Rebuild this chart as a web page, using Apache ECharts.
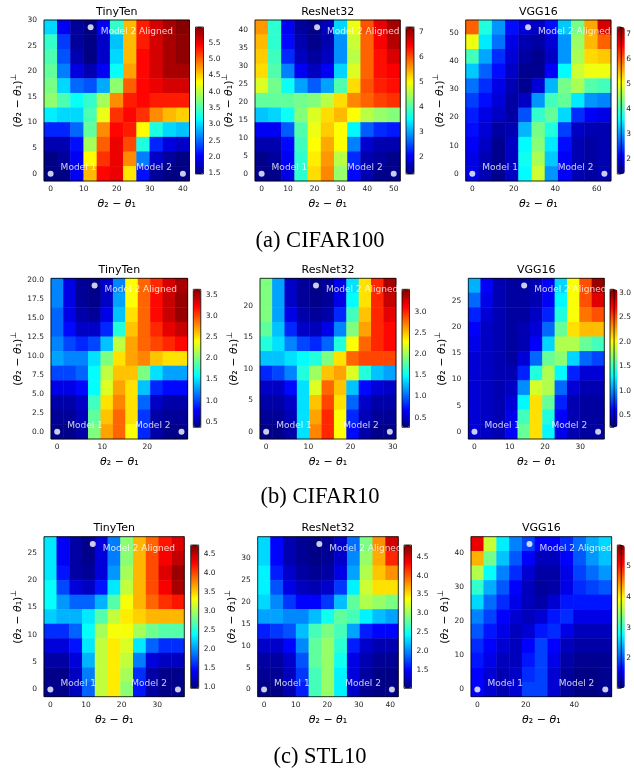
<!DOCTYPE html>
<html><head><meta charset="utf-8">
<script src="https://cdn.jsdelivr.net/npm/echarts@6/dist/echarts.min.js"></script>
<style>html,body{margin:0;padding:0;background:#fff}#c{width:634px;height:773px}</style>
</head><body><div id="c"></div>
<script>
// ---------------- data ----------------
const panelTitles = ['TinyTen','ResNet32','VGG16','TinyTen','ResNet32','VGG16','TinyTen','ResNet32','VGG16'];
const captions = ['(a) CIFAR100','(b) CIFAR10','(c) STL10'];
const dotNames = ['Model 1','Model 2','Model 2 Aligned'];
const model2X  = [40, 50, 63.7, 27.6, 29.3, 35.1, 35.8, 40.5, 52.8];
const alignedX = [12.1, 21.0, 26.9, 8.3, 11.8, 14.1, 11.9, 17.5, 21.5];
const alignedY = [28.6, 40.8, 52.1, 19.3, 23.2, 28.0, 26.6, 33.3, 42.8];
const cbMin = [1.48, 1.33, 1.40, 0.37, 0.27, 0.26, 0.96, 1.02, 1.02];
const cbMax = [5.98, 7.21, 7.30, 3.63, 3.53, 3.07, 4.75, 4.81, 5.70];
const xTicks = [[0,10,20,30,40],[0,10,20,30,40,50],[0,20,40,60],[0,10,20],[0,10,20,30],[0,10,20,30],[0,10,20,30],[0,10,20,30,40],[0,20,40]];
const yTicks = [[0,5,10,15,20,25,30],[0,5,10,15,20,25,30,35,40],[0,10,20,30,40,50],[0,2.5,5,7.5,10,12.5,15,17.5,20],[0,5,10,15,20],[0,5,10,15,20,25],[0,5,10,15,20,25],[0,5,10,15,20,25,30],[0,10,20,30,40]];
const yDecimals = [0,0,0,1,0,0,0,0,0];
const cbTicks = [[1.5,2,2.5,3,3.5,4,4.5,5,5.5],[2,3,4,5,6,7],[2,3,4,5,6,7],[0.5,1,1.5,2,2.5,3,3.5],[0.5,1,1.5,2,2.5,3],[0.5,1,1.5,2,2.5,3],[1,1.5,2,2.5,3,3.5,4,4.5],[1.5,2,2.5,3,3.5,4,4.5],[2,3,4,5]];
const cbDecimals = [1,0,0,1,1,1,1,1,0];

// loss surfaces, rows from top (y = L) to bottom (y = 0), columns x = 0 .. L
const heat1 = [
[3.0,2.0,1.6,1.5,2.0,3.4,4.6,5.3,5.6,5.8,5.95],
[3.4,2.3,1.6,1.5,1.8,2.9,4.6,5.3,5.6,5.8,5.9],
[3.5,2.4,1.7,1.5,1.8,3.0,4.6,5.4,5.6,5.8,5.9],
[3.6,2.6,1.9,1.7,2.0,3.2,4.7,5.4,5.6,5.8,5.8],
[3.7,3.0,2.5,2.4,2.8,3.8,5.0,5.4,5.5,5.6,5.6],
[3.8,3.5,3.2,3.4,3.9,4.8,5.3,5.4,5.3,5.3,5.3],
[3.1,3.0,3.0,3.5,4.2,5.2,5.4,5.2,4.8,4.6,4.5],
[2.2,2.2,2.5,3.6,4.8,5.4,5.3,4.3,3.3,3.0,2.9],
[1.7,1.7,2.1,3.9,5.0,5.5,5.1,3.3,2.2,1.9,1.8],
[1.5,1.6,2.0,4.3,5.2,5.5,4.8,2.6,1.8,1.6,1.5],
[1.5,1.5,2.0,4.6,5.4,5.5,4.4,2.1,1.6,1.5,1.5]];
const heat2 = [
[5.6,3.8,2.0,1.5,1.4,1.7,3.3,4.9,6.0,6.6,7.0],
[5.4,3.8,2.1,1.6,1.4,1.6,2.9,4.7,5.9,6.5,6.9],
[5.3,3.9,2.3,1.7,1.5,1.7,2.9,4.6,5.9,6.4,6.7],
[5.2,4.0,2.8,2.0,1.7,2.0,3.3,4.8,5.9,6.4,6.5],
[4.8,4.2,3.6,3.0,2.6,3.0,4.0,5.2,6.0,6.3,6.4],
[4.1,4.1,4.1,4.2,4.3,4.6,5.2,5.7,5.9,6.1,6.2],
[3.2,3.3,3.6,4.3,4.8,5.2,5.4,5.0,4.6,4.4,4.3],
[2.0,2.0,2.6,4.0,4.9,5.3,5.0,3.5,2.6,2.3,2.2],
[1.6,1.6,2.1,3.9,5.0,5.5,5.0,2.8,1.8,1.6,1.6],
[1.4,1.5,2.0,3.8,5.1,5.6,4.6,2.3,1.6,1.5,1.4],
[1.4,1.4,1.9,3.8,5.2,5.7,4.4,2.1,1.6,1.4,1.4]];
const heat3 = [
[6.0,3.8,3.0,2.2,1.9,1.8,2.2,3.3,4.3,5.6,6.8],
[5.0,3.5,2.8,2.0,1.7,1.6,1.9,3.0,4.5,5.5,6.0],
[4.0,3.1,2.4,1.9,1.6,1.5,1.8,3.0,4.6,5.3,5.4],
[3.3,2.7,2.2,1.8,1.5,1.5,2.1,3.6,4.8,5.0,5.0],
[2.8,2.4,2.0,1.7,1.5,1.9,3.2,4.3,4.6,4.1,4.0],
[2.5,2.2,1.9,1.6,1.8,3.0,4.0,4.2,3.5,3.0,2.9],
[2.3,2.0,1.8,1.6,2.6,3.9,4.2,3.4,2.4,2.1,2.0],
[2.2,1.9,1.6,1.7,3.2,4.3,3.8,2.5,1.8,1.7,1.7],
[2.1,1.8,1.5,1.8,3.6,4.4,3.5,2.2,1.7,1.6,1.7],
[2.0,1.7,1.5,1.8,3.7,4.6,3.3,2.1,1.7,1.6,1.7],
[2.0,1.7,1.5,1.8,3.6,4.8,3.0,2.1,1.7,1.6,1.7]];
const heat4 = [
[1.2,0.7,0.45,0.4,0.6,1.2,2.4,2.9,3.1,3.35,3.5],
[1.2,0.7,0.45,0.4,0.6,1.3,2.4,2.9,3.2,3.4,3.55],
[1.1,0.7,0.5,0.45,0.7,1.4,2.5,2.9,3.2,3.4,3.55],
[1.1,0.8,0.6,0.6,0.9,1.7,2.6,2.9,3.1,3.3,3.4],
[1.2,1.0,0.9,1.0,1.4,2.2,2.7,2.9,3.0,3.1,3.2],
[1.3,1.2,1.2,1.5,2.0,2.5,2.7,2.8,2.6,2.5,2.5],
[1.0,1.0,1.1,1.6,2.2,2.6,2.6,2.0,1.5,1.3,1.3],
[0.7,0.7,0.8,1.6,2.3,2.7,2.5,1.4,0.9,0.8,0.8],
[0.5,0.5,0.6,1.8,2.5,2.8,2.5,1.1,0.6,0.5,0.5],
[0.45,0.45,0.55,1.9,2.6,2.9,2.5,0.95,0.5,0.45,0.45],
[0.4,0.4,0.5,2.0,2.7,2.9,2.4,0.9,0.5,0.4,0.4]];
const heat5 = [
[1.9,1.2,0.5,0.35,0.3,0.35,0.6,1.4,2.4,3.0,3.4],
[1.9,1.2,0.5,0.35,0.3,0.35,0.6,1.5,2.4,3.0,3.3],
[1.9,1.2,0.6,0.4,0.35,0.4,0.8,1.7,2.5,3.0,3.2],
[1.8,1.3,0.8,0.5,0.45,0.6,1.1,1.9,2.6,3.0,3.1],
[1.6,1.4,1.1,0.9,0.8,1.0,1.6,2.3,2.8,3.0,3.1],
[1.3,1.3,1.4,1.5,1.6,1.9,2.4,2.8,2.9,2.9,2.9],
[0.8,0.9,1.1,1.6,2.0,2.5,2.6,2.2,1.6,1.3,1.2],
[0.5,0.5,0.7,1.4,2.2,2.8,2.5,1.3,0.7,0.55,0.5],
[0.4,0.4,0.5,1.4,2.5,2.9,2.4,1.0,0.5,0.4,0.4],
[0.35,0.35,0.45,1.4,2.6,3.0,2.3,0.8,0.45,0.35,0.35],
[0.3,0.3,0.4,1.4,2.7,3.0,2.3,0.7,0.4,0.3,0.3]];
const heat6 = [
[1.1,0.6,0.4,0.35,0.35,0.4,0.6,1.2,2.0,2.5,3.0],
[0.9,0.55,0.4,0.35,0.35,0.4,0.6,1.3,2.0,2.5,2.8],
[0.7,0.5,0.4,0.35,0.35,0.45,0.7,1.4,2.0,2.4,2.5],
[0.6,0.45,0.4,0.35,0.4,0.5,0.9,1.6,2.1,2.2,2.2],
[0.55,0.45,0.4,0.35,0.4,0.6,1.2,1.8,1.8,1.6,1.5],
[0.5,0.45,0.4,0.35,0.5,0.9,1.6,1.7,1.2,0.9,0.8],
[0.5,0.45,0.4,0.4,0.7,1.4,1.8,1.3,0.7,0.5,0.5],
[0.5,0.45,0.4,0.45,1.0,1.9,1.8,0.9,0.5,0.4,0.4],
[0.5,0.45,0.4,0.5,1.3,2.1,1.6,0.7,0.4,0.35,0.35],
[0.5,0.45,0.4,0.55,1.5,2.1,1.4,0.6,0.4,0.35,0.35],
[0.5,0.45,0.4,0.6,1.6,2.1,1.3,0.55,0.4,0.35,0.35]];
const heat7 = [
[2.3,1.4,1.1,1.0,1.3,1.9,2.9,3.6,3.9,4.2,4.4],
[2.3,1.4,1.1,1.0,1.3,1.9,2.9,3.6,4.0,4.3,4.5],
[2.3,1.5,1.1,1.05,1.3,2.0,3.0,3.6,4.0,4.4,4.65],
[2.4,1.7,1.3,1.2,1.5,2.3,3.1,3.6,4.0,4.3,4.6],
[2.4,2.0,1.8,1.8,2.1,2.7,3.3,3.6,3.9,4.1,4.2],
[2.2,2.1,2.1,2.3,2.7,3.1,3.4,3.5,3.6,3.6,3.6],
[1.6,1.6,1.8,2.4,3.0,3.3,3.3,3.0,2.8,2.7,2.7],
[1.3,1.3,1.5,2.3,3.1,3.4,3.2,2.3,1.8,1.6,1.6],
[1.1,1.1,1.3,2.1,3.1,3.4,3.1,1.9,1.3,1.2,1.2],
[1.0,1.0,1.2,1.9,3.1,3.4,3.0,1.6,1.1,1.0,1.0],
[1.0,1.0,1.2,1.8,3.1,3.4,2.9,1.5,1.1,1.0,1.0]];
const heat8 = [
[2.3,1.5,1.2,1.1,1.05,1.1,1.3,1.9,2.9,3.8,4.5],
[2.3,1.5,1.2,1.1,1.05,1.1,1.3,2.0,3.0,3.7,4.2],
[2.4,1.6,1.3,1.15,1.1,1.15,1.4,2.1,3.1,3.6,3.8],
[2.4,1.8,1.4,1.25,1.2,1.3,1.7,2.4,3.2,3.5,3.5],
[2.3,2.0,1.7,1.5,1.5,1.7,2.2,2.8,3.1,3.0,2.9],
[2.1,2.1,2.0,2.0,2.2,2.5,2.8,2.7,2.4,2.2,2.1],
[1.6,1.7,1.8,2.2,2.7,2.9,2.7,2.1,1.6,1.5,1.5],
[1.3,1.3,1.5,2.0,2.8,3.0,2.6,1.6,1.3,1.2,1.2],
[1.15,1.15,1.3,1.8,2.8,3.0,2.5,1.4,1.2,1.1,1.1],
[1.1,1.1,1.25,1.7,2.7,3.0,2.4,1.35,1.15,1.05,1.05],
[1.05,1.05,1.2,1.6,2.7,3.0,2.4,1.3,1.1,1.05,1.05]];
const heat9 = [
[5.2,3.7,2.7,2.2,1.9,1.6,1.6,1.8,2.1,2.4,2.6],
[4.3,3.3,2.5,2.0,1.6,1.3,1.3,1.6,2.0,2.3,2.5],
[3.6,2.8,2.2,1.8,1.4,1.2,1.2,1.5,1.9,2.1,2.3],
[3.0,2.4,2.0,1.6,1.3,1.15,1.2,1.5,1.8,1.9,2.0],
[2.6,2.1,1.8,1.5,1.3,1.2,1.4,1.7,1.7,1.7,1.7],
[2.2,1.9,1.6,1.4,1.3,1.4,1.7,1.8,1.5,1.5,1.5],
[2.0,1.7,1.5,1.3,1.4,1.7,1.8,1.5,1.3,1.3,1.3],
[1.8,1.6,1.4,1.3,1.6,1.9,1.6,1.3,1.2,1.2,1.2],
[1.7,1.5,1.3,1.3,1.7,1.9,1.5,1.2,1.1,1.1,1.1],
[1.6,1.4,1.25,1.35,1.8,1.9,1.4,1.15,1.05,1.05,1.1],
[1.6,1.4,1.25,1.4,1.9,1.9,1.4,1.15,1.05,1.05,1.1]];
const heats = [heat1,heat2,heat3,heat4,heat5,heat6,heat7,heat8,heat9];

// ---------------- layout ----------------
const plotRects = [[44,20,145.5,161],[255,20,145.3,161],[465.7,20,145.3,161],
                   [51,278.3,136.7,160.7],[260,278.3,136,160.7],[468.3,278.3,136,160.7],
                   [44,536.7,140.3,160],[257.7,536.7,140.6,160],[471,536.7,140.7,160]];
const cbRects = [[195.5,27,8,147],[406,27,8,147],[617.3,27,7.5,147],
                 [193.3,289.3,7.5,138],[402,289.3,7.5,138],[610,289.3,7.5,138],
                 [190.7,545,8,143.3],[404,545,7.5,143.3],[617.3,545,7.5,143.3]];
const yNameGap = [18,16,16,23,17,17,18,15,18];
const titleY = [12,12,12,270,270,270,528,528,528];
const captionY = [241.5,497,757];

const jet = ['#00007f','#0000ff','#007fff','#00ffff','#7fff7f','#ffff00','#ff7f00','#ff0000','#7f0000'];
const FONT = 'DejaVu Sans';
const cats = [0,1,2,3,4,5,6,7,8,9,10];
const tickLine = {color:'#000', width:0.8};
const xName = '{i|θ}{n|₂ − }{i|θ}{n|₁}';
const yName = '{n|(}{i|θ}{n|₂ − }{i|θ}{n|₁)}{s|⊥}';
const nameStyle = {color:'#000', fontSize:11, fontFamily:FONT,
  rich:{i:{fontStyle:'italic', fontSize:11, fontFamily:FONT, color:'#000', lineHeight:16},
        n:{fontSize:11, fontFamily:FONT, color:'#000', lineHeight:16},
        s:{fontSize:8, fontFamily:FONT, color:'#000', verticalAlign:'top', lineHeight:16}}};

const option = {animation:false, textStyle:{fontFamily:FONT},
  grid:[], xAxis:[], yAxis:[], series:[], visualMap:[], title:[]};

for (let p = 0; p < 9; p++) {
  const [l,t,w,h] = plotRects[p];
  const Lx = model2X[p], Ly = alignedY[p];
  const g = option.grid.length;
  option.grid.push({left:l, top:t, width:w, height:h, show:true, borderColor:'#000', borderWidth:0.8, z:10, backgroundColor:'transparent'});
  const vx = option.xAxis.length;
  option.xAxis.push({type:'value', gridIndex:g, min:-0.05*Lx, max:1.05*Lx,
    axisLine:{show:false}, splitLine:{show:false},
    axisTick:{show:true, length:3.5, lineStyle:tickLine, customValues:xTicks[p]},
    axisLabel:{customValues:xTicks[p], fontSize:7.5, color:'#222', margin:4.5, fontFamily:FONT, formatter:v=>String(v)},
    name:xName, nameLocation:'middle', nameGap:15, nameTextStyle:nameStyle});
  const cx = option.xAxis.length;
  option.xAxis.push({type:'category', gridIndex:g, data:cats, show:false, boundaryGap:true});
  const vy = option.yAxis.length;
  option.yAxis.push({type:'value', gridIndex:g, min:-0.05*Ly, max:1.05*Ly,
    axisLine:{show:false}, splitLine:{show:false},
    axisTick:{show:true, length:3.5, lineStyle:tickLine, customValues:yTicks[p]},
    axisLabel:{customValues:yTicks[p], fontSize:7.5, color:'#222', margin:7, fontFamily:FONT, formatter:v=>Number(v).toFixed(yDecimals[p])},
    name:yName, nameLocation:'middle', nameGap:yNameGap[p], nameTextStyle:nameStyle});
  const cy = option.yAxis.length;
  option.yAxis.push({type:'category', gridIndex:g, data:cats, show:false, boundaryGap:true});

  const rows = heats[p], data = [];
  rows.forEach((row, r) => row.forEach((v, c) => data.push([c, rows.length - 1 - r, v])));
  const hs = option.series.length;
  option.series.push({type:'heatmap', xAxisIndex:cx, yAxisIndex:cy, data:data, silent:true,
    emphasis:{disabled:true}, itemStyle:{borderWidth:0}, progressive:0});
  const pts = [[0,0],[Lx,0],[alignedX[p],Ly]];
  const lab = [{position:'right', offset:[2,-6]},{position:'left', offset:[-3,-6]},{position:'right', offset:[2,4.5]}];
  option.series.push({type:'scatter', xAxisIndex:vx, yAxisIndex:vy, symbolSize:6, z:11, silent:true,
    itemStyle:{color:'#fff'},
    label:{show:true, color:'#fff', fontSize:9, fontFamily:FONT},
    data: pts.map((pt,i)=>({name:dotNames[i], value:pt, label:Object.assign({formatter:dotNames[i]}, lab[i])}))});

  const [bl,bt,bw,bh] = cbRects[p];
  const g2 = option.grid.length;
  option.grid.push({left:bl, top:bt, width:bw, height:bh, show:true, borderColor:'#000', borderWidth:0.8, z:10, backgroundColor:'transparent'});
  option.xAxis.push({type:'value', gridIndex:g2, show:false});
  option.yAxis.push({type:'value', gridIndex:g2, position:'right', min:cbMin[p], max:cbMax[p],
    axisLine:{show:false}, splitLine:{show:false},
    axisTick:{show:true, length:3, lineStyle:tickLine, customValues:cbTicks[p]},
    axisLabel:{customValues:cbTicks[p], fontSize:7.5, color:'#222', margin:5, fontFamily:FONT, formatter:v=>Number(v).toFixed(cbDecimals[p])}});
  option.visualMap.push({type:'continuous', seriesIndex:hs, dimension:2, min:cbMin[p], max:cbMax[p],
    inRange:{color:jet}, left:bl, top:bt, itemWidth:bw, itemHeight:bh, padding:0,
    calculable:false, hoverLink:false, showLabel:false, text:null});

  option.title.push({text:panelTitles[p], left:l + w/2, top:titleY[p], textAlign:'center', textVerticalAlign:'middle', padding:0,
    textStyle:{fontSize:11, fontWeight:'normal', color:'#000', fontFamily:FONT}});
}
captions.forEach((c,i)=>option.title.push({text:c, left:320, top:captionY[i], textAlign:'center', textVerticalAlign:'middle', padding:0,
  textStyle:{fontSize:22.5, fontWeight:'normal', color:'#000', fontFamily:'Liberation Serif'}}));

const chart = echarts.init(document.getElementById('c'), null, {renderer:'canvas', width:634, height:773});
chart.setOption(option);
</script></body></html>
